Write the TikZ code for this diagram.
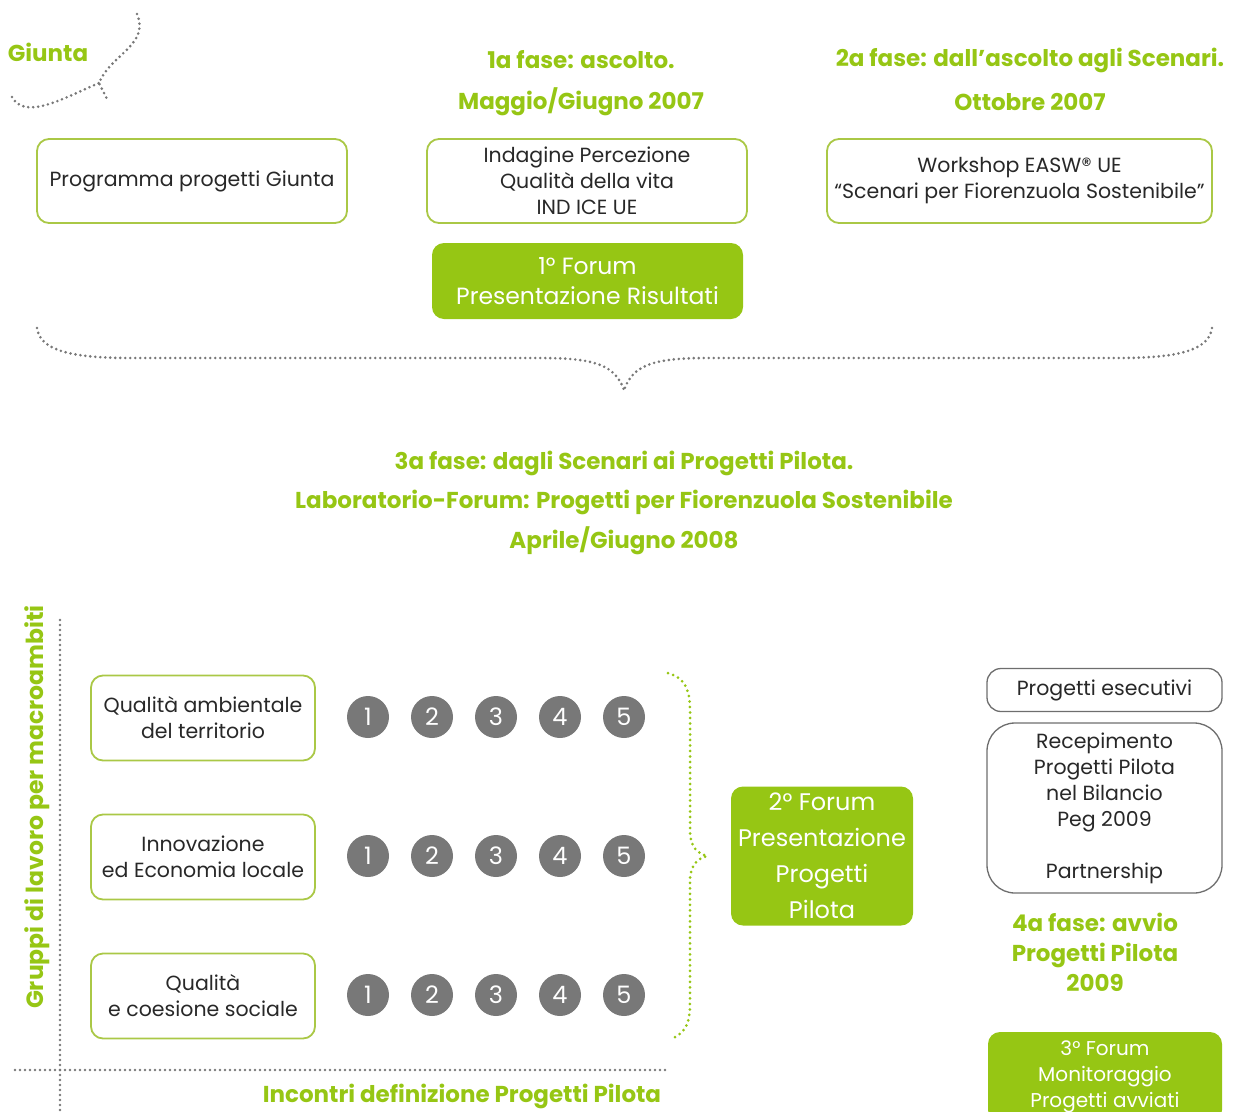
\documentclass[tikz,border=0pt]{standalone}
\usepackage{fontspec}
\setmainfont{Poppins}
\definecolor{lime}{RGB}{150,198,20}
\definecolor{limeb}{RGB}{170,200,70}
\definecolor{dgray}{RGB}{120,120,120}
\definecolor{txt}{RGB}{40,40,40}
\definecolor{bgray}{RGB}{110,110,110}
\begin{document}
\begin{tikzpicture}[x=1pt,y=-1pt,
  gbox/.style={draw=limeb,line width=1.8pt,rounded corners=12pt,fill=white,text=txt,align=center,font=\fontsize{20.5}{26}\selectfont,inner sep=0pt},
  ybox/.style={draw=bgray,line width=1.3pt,rounded corners=16pt,fill=white,text=txt,align=center,font=\fontsize{20.5}{26}\selectfont,inner sep=0pt},
  fbox/.style={fill=lime,rounded corners=12pt,text=white,align=center,inner sep=0pt},
  head/.style={text=lime,font=\bfseries\fontsize{23}{30}\selectfont,align=center,inner sep=0pt},
  num/.style={circle,fill=dgray,text=white,minimum size=42pt,inner sep=0pt,font=\fontsize{24}{24}\selectfont},
  dotg/.style={draw=dgray,line width=2.9pt,line cap=round,dash pattern=on 0pt off 5pt},
  dotl/.style={draw=lime,line width=3pt,line cap=round,dash pattern=on 0pt off 5.5pt}]
\useasboundingbox (0,0) rectangle (1234,1111);
% top headings
\node[head] (giunta) at (48,52) {Giunta};
\node[head] (f1a) at (581,60) {1a fase: ascolto.};
\node[head] (f1b) at (581,102) {Maggio/Giugno 2007};
\node[head] (f2a) at (1030,60) {2a fase: dall'ascolto agli Scenari.};
\node[head] (f2b) at (1030,102) {Ottobre 2007};
% giunta brace
\coordinate (gA) at (137,14);
\coordinate (gB) at (12,97);
\coordinate (gC) at (99,83);
\coordinate (gT) at (107,99);
\draw[dotg] (gA) .. controls (150,45) and (110,55) .. (gC) -- (gT);
\draw[dotg] (gB) .. controls (25,120) and (60,100) .. (gC);
% top boxes
\node[gbox,minimum width=310pt,minimum height=84pt] (b1) at (192,181) {Programma progetti Giunta};
\node[gbox,minimum width=320pt,minimum height=84pt] (b2) at (587,181) {Indagine Percezione\\Qualità della vita\\IND ICE UE};
\node[gbox,minimum width=385pt,minimum height=84pt] (b3) at (1019.5,181) {Workshop EASW® UE\\“Scenari per Fiorenzuola Sostenibile”};
\node[fbox,minimum width=311pt,minimum height=76pt,font=\fontsize{23.5}{30}\selectfont] (fo1) at (587.5,281) {1° Forum\\Presentazione Risultati};
% big brace
\coordinate (bl) at (37,328);
\coordinate (br) at (1212,328);
\coordinate (bt) at (624,390);
\draw[dotg] (bl) .. controls (40,350) and (70,358) .. (130,358) -- (540,358) .. controls (595,358) and (615,365) .. (bt);
\draw[dotg] (br) .. controls (1209,350) and (1179,358) .. (1119,358) -- (708,358) .. controls (653,358) and (633,365) .. (bt);
% phase 3 heading
\node[head] (f3a) at (624,463) {3a fase: dagli Scenari ai Progetti Pilota.};
\node[head] (f3b) at (624,502) {Laboratorio-Forum: Progetti per Fiorenzuola Sostenibile};
\node[head] (f3c) at (624,541) {Aprile/Giugno 2008};
% axes
\node[head,rotate=90,font=\bfseries\fontsize{23.5}{30}\selectfont] (gruppi) at (37,807) {Gruppi di lavoro per macroambiti};
\coordinate (vT) at (60,620);
\coordinate (vB) at (60,1111);
\coordinate (hL) at (15,1070);
\coordinate (hR) at (665,1070);
\draw[dotg] (vT) -- (vB);
\draw[dotg] (hL) -- (hR);
\node[head] (incontri) at (462,1096) {Incontri definizione Progetti Pilota};
% group boxes
\node[gbox,minimum width=224pt,minimum height=85pt] (g1) at (203,718) {Qualità ambientale\\del territorio};
\node[gbox,minimum width=224pt,minimum height=85pt] (g2) at (203,857) {Innovazione\\ed Economia locale};
\node[gbox,minimum width=224pt,minimum height=85pt] (g3) at (203,996) {Qualità\\e coesione sociale};
\foreach \r/\y in {1/717,2/856,3/995}{
  \foreach \i in {1,...,5}{
    \node[num] (c\r\i) at ({304+64*\i},\y) {\i};
  }
}
% right brace
\coordinate (rT) at (668,673);
\coordinate (rB) at (675,1037);
\coordinate (rM) at (708,856);
\draw[dotl] (rT) .. controls (685,678) and (690,690) .. (690,710) -- (690,830) .. controls (690,848) and (698,854) .. (rM);
\draw[dotl] (rB) .. controls (688,1030) and (690,1020) .. (690,1000) -- (690,882) .. controls (690,864) and (698,858) .. (rM);
\node[fbox,minimum width=182pt,minimum height=139pt,font=\fontsize{24}{36}\selectfont] (fo2) at (822,856) {2° Forum\\Presentazione\\Progetti\\Pilota};
% right column
\node[ybox,minimum width=235pt,minimum height=43pt,rounded corners=14pt] (pe) at (1104.5,690) {Progetti esecutivi};
\node[ybox,minimum width=235pt,minimum height=170pt,rounded corners=28pt] (rc) at (1104.5,808) {Recepimento\\Progetti Pilota\\nel Bilancio\\Peg 2009\\[26pt]Partnership};
\node[head] (f4) at (1095,952) {4a fase: avvio\\Progetti Pilota\\2009};
\node[fbox,minimum width=234pt,minimum height=90pt,font=\fontsize{20}{26}\selectfont] (fo3) at (1105,1077) {3° Forum\\Monitoraggio\\Progetti avviati};
\end{tikzpicture}
\end{document}
